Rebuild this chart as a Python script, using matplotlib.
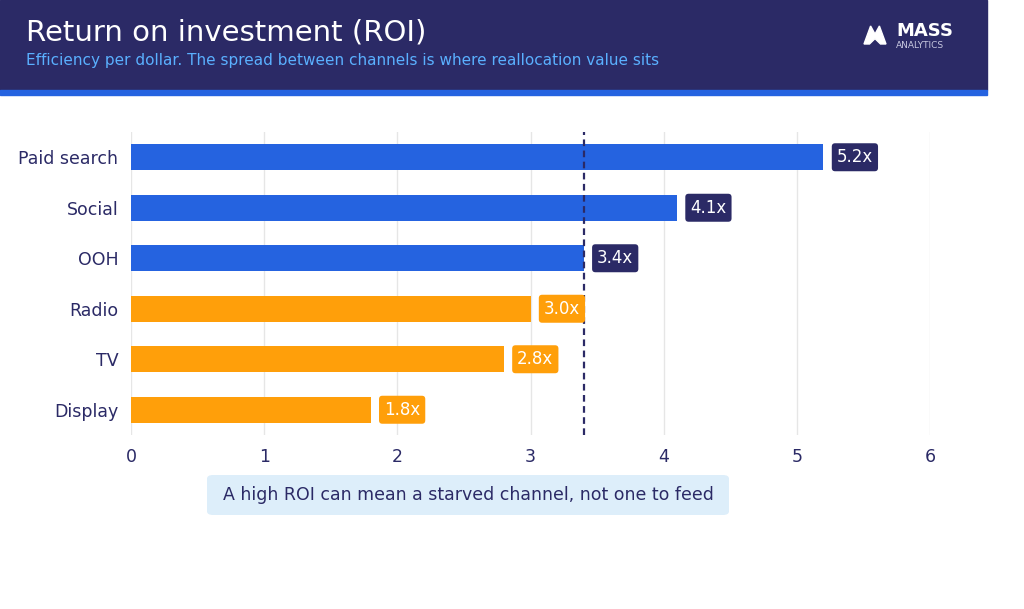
import matplotlib
matplotlib.use("Agg")
import matplotlib.pyplot as plt
from matplotlib.patches import Rectangle, FancyBboxPatch, Polygon

channels = ["Paid search", "Social", "OOH", "Radio", "TV", "Display"]
roi = [5.2, 4.1, 3.4, 3.0, 2.8, 1.8]
above = [True, True, True, False, False, False]
benchmark = 3.4
xticks = [0, 1, 2, 3, 4, 5, 6]

NAVY = "#2b2a66"
BLUE = "#2563e0"
ORANGE = "#ff9f0a"

fig = plt.figure(figsize=(10.24, 6.09), dpi=100)
fig.patch.set_facecolor("white")

# header
fig.patches.append(Rectangle((0, 1 - 90/609), 987/1024, 90/609, transform=fig.transFigure, color=NAVY, zorder=0))
fig.patches.append(Rectangle((0, 1 - 95/609), 987/1024, 5/609, transform=fig.transFigure, color=BLUE, zorder=0))
fig.text(26/1024, 1 - 32/609, "Return on investment (ROI)", color="white", fontsize=21, va="center", family="Poppins" if False else "DejaVu Sans")
fig.text(26/1024, 1 - 61/609, "Efficiency per dollar. The spread between channels is where reallocation value sits",
         color="#5ab0ff", fontsize=11, va="center")
# logo
lx, ly = 864/1024, 1 - 44/609
w, h = 22/1024, 18/609
fig.patches.append(Polygon([(lx, ly), (lx + w*0.3, ly + h), (lx + w*0.5, ly + h*0.55), (lx + w*0.7, ly + h),
                            (lx + w, ly), (lx + w*0.75, ly), (lx + w*0.5, ly + h*0.3), (lx + w*0.25, ly)],
                           closed=True, transform=fig.transFigure, color="white"))
fig.text(896/1024, 1 - 31/609, "MASS", color="white", fontsize=13, fontweight="bold", va="center")
fig.text(896/1024, 1 - 45/609, "ANALYTICS", color="#c8c8e0", fontsize=6.5, va="center")

ax = fig.add_axes([131/1024, 1 - 435/609, 799/1024, 303/609])
ys = list(range(len(channels)))
colors = [BLUE if a else ORANGE for a in above]
ax.barh(ys, roi, height=0.52, color=colors, zorder=3)
ax.set_ylim(len(channels) - 0.5, -0.5)
ax.set_xlim(0, 6)
ax.set_xticks(xticks)
ax.set_yticks(ys)
ax.set_yticklabels(channels)
ax.tick_params(length=0, labelsize=12.5, labelcolor="#2b2a66", pad=9)
ax.tick_params(axis="y", pad=9)
for s in ax.spines.values():
    s.set_visible(False)
ax.grid(axis="x", color="#e6e6e6", lw=1, zorder=0)
ax.axvline(benchmark, color=NAVY, ls=(0, (3, 2)), lw=1.6, zorder=4)
for y, v, a in zip(ys, roi, above):
    ax.text(v + 0.1, y, f"{v:.1f}x", va="center", ha="left", color="white", fontsize=12, zorder=5,
            bbox=dict(boxstyle="round,pad=0.3,rounding_size=0.2", fc=NAVY if a else ORANGE, ec="none"))

fig.patches.append(FancyBboxPatch((207/1024, 1 - 515/609), 522/1024, 40/609, boxstyle="round,pad=0,rounding_size=0.006",
                                  transform=fig.transFigure, fc="#ddeefa", ec="none"))
fig.text(468/1024, 1 - 495/609, "A high ROI can mean a starved channel, not one to feed", ha="center", va="center",
         color=NAVY, fontsize=12.5)

fig.savefig("out.png", dpi=100)
